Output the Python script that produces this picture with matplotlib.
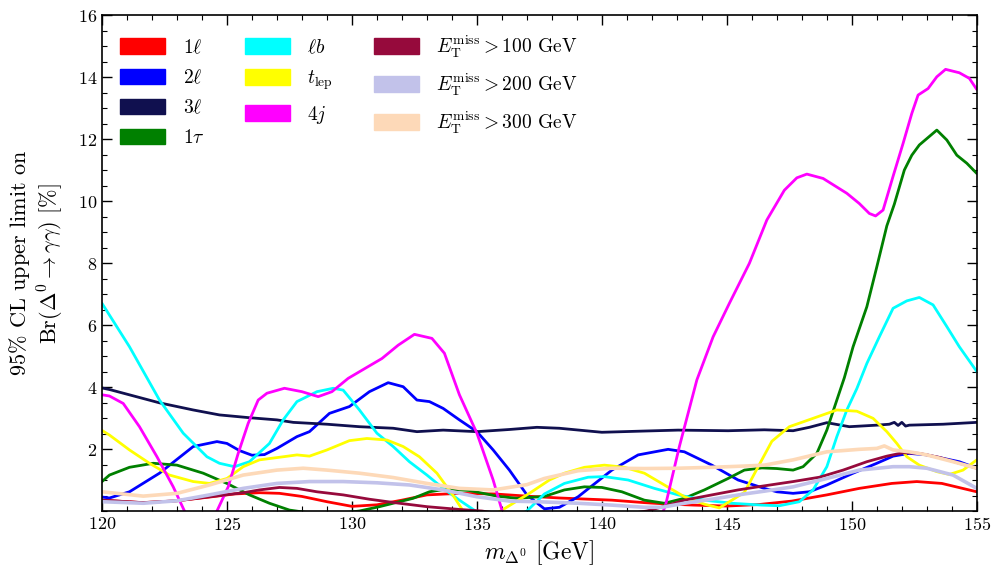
import matplotlib
matplotlib.use("Agg")
import matplotlib.pyplot as plt
from matplotlib.patches import Patch
from matplotlib.ticker import MultipleLocator

plt.rcParams['font.family'] = 'serif'
plt.rcParams['font.serif'] = ['cmr10']
plt.rcParams['mathtext.fontset'] = 'cm'
plt.rcParams['axes.formatter.use_mathtext'] = True

# values (x in GeV, y in %)
red_x = [120, 121.6, 123, 124.3, 125.3, 126.3, 127.1, 128.0, 129.0, 130.0, 131.0, 132.0, 133.0, 134.3, 135.7,
         137.0, 138.3, 139.5, 140.4, 141.7, 142.5, 143.7, 145.0, 146.3, 147.6, 149.0, 150.3, 151.6, 152.6, 153.6, 155.0]
red_y = [0.35, 0.27, 0.33, 0.45, 0.55, 0.59, 0.57, 0.47, 0.30, 0.15, 0.20, 0.35, 0.52, 0.57, 0.55,
         0.48, 0.42, 0.38, 0.35, 0.27, 0.23, 0.19, 0.16, 0.21, 0.32, 0.52, 0.73, 0.89, 0.95, 0.89, 0.62]

blue_x = [120, 120.3, 121.1, 122.3, 123.65, 124.6, 125.0, 125.5, 126.0, 126.5, 127.0, 127.8, 128.3, 129.1, 129.9,
          130.7, 131.45, 132.05, 132.6, 133.1, 133.65, 134.3, 135.0, 135.65, 136.3, 137.0, 137.7, 138.3, 139.05,
          140.4, 141.45, 142.65, 143.3, 144.4, 145.45, 146.5, 147.0, 147.65, 148.3, 149.0, 150.05, 151.0, 151.65,
          152.3, 153.0, 154.3, 155.0]
blue_y = [0.45, 0.42, 0.62, 1.22, 2.08, 2.24, 2.18, 1.95, 1.80, 1.82, 2.02, 2.40, 2.56, 3.15, 3.37,
          3.85, 4.14, 4.01, 3.58, 3.53, 3.31, 2.94, 2.56, 1.97, 1.32, 0.52, 0.07, 0.12, 0.46,
          1.32, 1.81, 1.99, 1.91, 1.48, 1.00, 0.73, 0.62, 0.57, 0.62, 0.84, 1.22, 1.54, 1.77,
          1.86, 1.81, 1.59, 1.38]

navy_x = [120, 120.3, 122.3, 123.65, 124.7, 125.9, 127.0, 127.65, 129.0, 130.3, 131.65, 132.6, 133.65, 135.0,
          136.3, 137.4, 138.3, 140.0, 141.7, 143.05, 145.05, 146.5, 147.65, 148.3, 149.0, 149.9, 151.0, 151.5,
          151.7, 151.85, 152.0, 152.15, 152.3, 153.65, 155.0]
navy_y = [3.97, 3.92, 3.49, 3.26, 3.10, 3.01, 2.94, 2.86, 2.80, 2.72, 2.67, 2.56, 2.61, 2.56,
          2.63, 2.70, 2.67, 2.54, 2.58, 2.61, 2.59, 2.62, 2.59, 2.70, 2.85, 2.72, 2.77, 2.80,
          2.86, 2.76, 2.86, 2.74, 2.77, 2.80, 2.86]

green_x = [120, 120.3, 121.1, 122.05, 123.0, 124.05, 125.0, 125.9, 126.7, 127.5, 128.2, 129.0, 129.8, 130.3,
           131.1, 132.45, 133.1, 133.8, 134.7, 135.8, 136.6, 137.7, 138.5, 139.3, 140.0, 140.8, 141.7, 142.5,
           143.3, 144.1, 145.05, 145.7, 146.4, 147.0, 147.65, 148.05, 148.6, 149.0, 149.4, 149.7, 150.05, 150.6,
           151.0, 151.4, 151.7, 152.1, 152.4, 152.7, 153.4, 153.8, 154.2, 154.6, 155.0]
green_y = [0.95, 1.16, 1.41, 1.54, 1.48, 1.22, 0.89, 0.52, 0.25, 0.03, -0.05, -0.1, -0.05, 0.0,
           0.14, 0.41, 0.62, 0.71, 0.66, 0.48, 0.41, 0.47, 0.68, 0.78, 0.76, 0.62, 0.35, 0.25,
           0.41, 0.68, 1.05, 1.32, 1.39, 1.37, 1.32, 1.43, 1.86, 2.61, 3.58, 4.3, 5.3, 6.59,
           7.88, 9.2, 9.9, 11.0, 11.48, 11.81, 12.29, 11.97, 11.48, 11.22, 10.89]

cyan_x = [120, 120.3, 121.1, 122.3, 123.25, 124.2, 124.7, 125.3, 125.9, 126.7, 127.25, 127.8, 128.6, 129.25,
          129.65, 130.3, 131.0, 131.65, 132.3, 133.0, 133.65, 134.3, 134.85, 135.5, 136.3, 137.0, 137.7, 138.5,
          139.45, 140.1, 141.05, 142.1, 143.05, 144.1, 145.2, 146.4, 147.1, 147.9, 148.45, 149.0, 149.4, 149.8,
          150.2, 150.6, 151.1, 151.65, 152.2, 152.7, 153.25, 153.8, 154.3, 155.0]
cyan_y = [6.7, 6.32, 5.30, 3.58, 2.51, 1.75, 1.54, 1.43, 1.59, 2.18, 2.94, 3.53, 3.85, 3.96,
          3.90, 3.26, 2.51, 2.08, 1.59, 1.16, 0.73, 0.35, 0.05, -0.3, -0.3, 0.0, 0.55, 0.89,
          1.09, 1.11, 1.0, 0.73, 0.52, 0.35, 0.25, 0.19, 0.17, 0.30, 0.68, 1.43, 2.40, 3.26,
          3.95, 4.76, 5.62, 6.54, 6.78, 6.89, 6.65, 5.95, 5.30, 4.5]

yellow_x = [120, 120.3, 121.1, 121.9, 122.7, 123.65, 124.3, 125.0, 125.65, 126.3, 127.25, 127.8, 128.3, 129.0,
            129.9, 130.6, 131.4, 132.05, 132.7, 133.4, 134.05, 134.45, 135.3, 136.05, 137.1, 137.9, 138.5,
            139.3, 140.1, 140.9, 141.7, 142.5, 143.3, 144.1, 144.7, 145.7, 146.3, 146.8, 147.5, 148.45, 149.4,
            150.2, 150.85, 151.4, 151.8, 152.2, 152.7, 153.4, 153.9, 154.45, 155.0]
yellow_y = [2.6, 2.45, 1.97, 1.54, 1.16, 0.95, 0.89, 1.05, 1.43, 1.65, 1.75, 1.81, 1.77, 1.97,
            2.27, 2.34, 2.29, 2.08, 1.75, 1.22, 0.5, 0.0, -0.3, 0.05, 0.57, 1.0, 1.22,
            1.41, 1.48, 1.41, 1.22, 0.84, 0.46, 0.22, 0.1, 0.6, 1.5, 2.25, 2.72, 2.99, 3.26,
            3.22, 2.99, 2.56, 2.18, 1.75, 1.48, 1.27, 1.18, 1.32, 1.65]

magenta_x = [120, 120.3, 120.85, 121.5, 122.2, 122.85, 123.3, 123.8, 124.2, 124.6, 125.05, 125.45, 125.85, 126.25,
             126.6, 127.3, 128.0, 128.65, 129.2, 129.85, 130.65, 131.2, 131.85, 132.5, 133.2, 133.7, 134.3, 135.0,
             135.65, 136.0, 136.5, 142.0, 142.55, 143.1, 143.8, 144.45, 145.1, 145.9, 146.6, 147.3, 147.8, 148.2,
             148.85, 149.8, 150.3, 150.7, 150.95, 151.25, 151.65, 152.05, 152.4, 152.65, 153.05, 153.4, 153.75,
             154.3, 154.7, 155.0]
magenta_y = [3.75, 3.71, 3.47, 2.72, 1.75, 0.78, 0.0, -0.8, -0.8, 0.0, 0.78, 1.86, 2.83, 3.58,
             3.8, 3.96, 3.85, 3.69, 3.85, 4.28, 4.66, 4.92, 5.35, 5.70, 5.57, 5.09, 3.75, 2.51,
             1.0, 0.03, -1.0, -1.0, 0.2, 2.08, 4.23, 5.62, 6.70, 7.99, 9.39, 10.35, 10.75, 10.87,
             10.73, 10.25, 9.92, 9.60, 9.52, 9.71, 10.8, 11.86, 12.83, 13.42, 13.63, 14.01, 14.25,
             14.14, 13.96, 13.6]

met100_x = [120, 121.65, 123.0, 124.3, 125.65, 126.3, 127.1, 127.8, 128.6, 129.65, 130.7, 131.7, 133.0, 134.3,
            135.2, 136.0, 141.0, 141.8, 142.5, 143.3, 144.4, 145.45, 146.4, 147.65, 148.7, 149.65, 150.6, 151.4,
            152.05, 152.7, 153.5, 154.3, 155.0]
met100_y = [0.35, 0.27, 0.33, 0.46, 0.59, 0.68, 0.76, 0.73, 0.62, 0.52, 0.38, 0.27, 0.14, 0.05,
            0.0, -0.1, -0.1, 0.0, 0.15, 0.35, 0.52, 0.68, 0.80, 0.95, 1.09, 1.32, 1.59, 1.77,
            1.88, 1.86, 1.73, 1.54, 1.38]

met200_x = [120, 121.65, 123.0, 124.3, 125.65, 127.0, 128.3, 129.65, 131.0, 132.3, 133.65, 135.0, 136.3, 137.4,
            139.05, 140.4, 141.7, 142.4, 143.3, 144.4, 145.7, 146.5, 147.65, 149.0, 150.3, 151.65, 152.3, 153.0,
            154.05, 155.0]
met200_y = [0.30, 0.25, 0.33, 0.52, 0.73, 0.89, 0.95, 0.95, 0.91, 0.84, 0.68, 0.46, 0.32, 0.30,
            0.25, 0.19, 0.12, 0.12, 0.25, 0.38, 0.55, 0.64, 0.78, 1.05, 1.32, 1.43, 1.43, 1.38,
            1.16, 0.73]

met300_x = [120, 121.65, 123.0, 124.3, 125.65, 127.0, 128.05, 129.0, 130.3, 131.65, 133.0, 134.3, 135.65, 137.0,
            137.7, 139.05, 140.4, 141.7, 143.05, 144.4, 145.7, 146.5, 147.65, 149.0, 150.3, 151.0, 151.3, 151.65,
            152.3, 153.0, 154.05, 155.0]
met300_y = [0.62, 0.48, 0.57, 0.84, 1.16, 1.32, 1.38, 1.32, 1.22, 1.08, 0.89, 0.73, 0.68, 0.85,
            1.05, 1.30, 1.38, 1.37, 1.38, 1.41, 1.45, 1.48, 1.65, 1.91, 1.99, 2.02, 2.10, 1.97,
            1.91, 1.81, 1.59, 1.38]

labels = [r'$1\ell$', r'$2\ell$', r'$3\ell$', r'$1\tau$', r'$\ell b$', r'$t_{\rm lep}$', r'$4j$',
          r'$E_{\rm T}^{\rm miss} > 100$ GeV', r'$E_{\rm T}^{\rm miss} > 200$ GeV', r'$E_{\rm T}^{\rm miss} > 300$ GeV']
colors = ['#ff0000', '#0000ff', '#10104f', '#008000', '#00ffff', '#ffff00', '#ff00ff',
          '#960a3c', '#c2c2ea', '#fdd9b8']
series = [(red_x, red_y), (blue_x, blue_y), (navy_x, navy_y), (green_x, green_y), (cyan_x, cyan_y),
          (yellow_x, yellow_y), (magenta_x, magenta_y), (met100_x, met100_y), (met200_x, met200_y),
          (met300_x, met300_y)]

fig = plt.figure(figsize=(9.93, 5.70), dpi=100)
ax = fig.add_axes([0.1027, 0.1035, 0.881, 0.870])

for (xs, ys), c in zip(series, colors):
    lw = 2.6 if c in ('#c2c2ea', '#fdd9b8') else 2.0
    ax.plot(xs, ys, color=c, lw=lw, solid_joinstyle='round', solid_capstyle='round')

ax.set_xlim(120, 155)
ax.set_ylim(0, 16)
ax.set_xticks(range(120, 156, 5))
ax.set_yticks(range(2, 17, 2))
ax.xaxis.set_minor_locator(MultipleLocator(1))
ax.yaxis.set_minor_locator(MultipleLocator(0.5))
ax.tick_params(which='both', direction='in', top=True, right=True, labelsize=13)
ax.tick_params(which='major', length=7, width=1)
ax.tick_params(which='minor', length=3.5, width=0.8)
for s in ax.spines.values():
    s.set_linewidth(1.2)

ax.set_xlabel(r'$m_{\Delta^0}$ [GeV]', fontsize=17, labelpad=4)
ax.set_ylabel('$95\\%$ CL upper limit on\n' + r'$\mathrm{Br}(\Delta^0 \rightarrow \gamma\gamma)$ [%]',
              fontsize=16, labelpad=8)

handles = [Patch(facecolor=c, edgecolor=c) for c in colors]
ax.legend(handles, labels, ncol=3, loc='upper left', frameon=False, fontsize=14,
          handlelength=2.3, handleheight=0.85, handletextpad=0.9, columnspacing=2.1,
          labelspacing=0.6, borderaxespad=0.55)

fig.savefig('out.png', dpi=100)
